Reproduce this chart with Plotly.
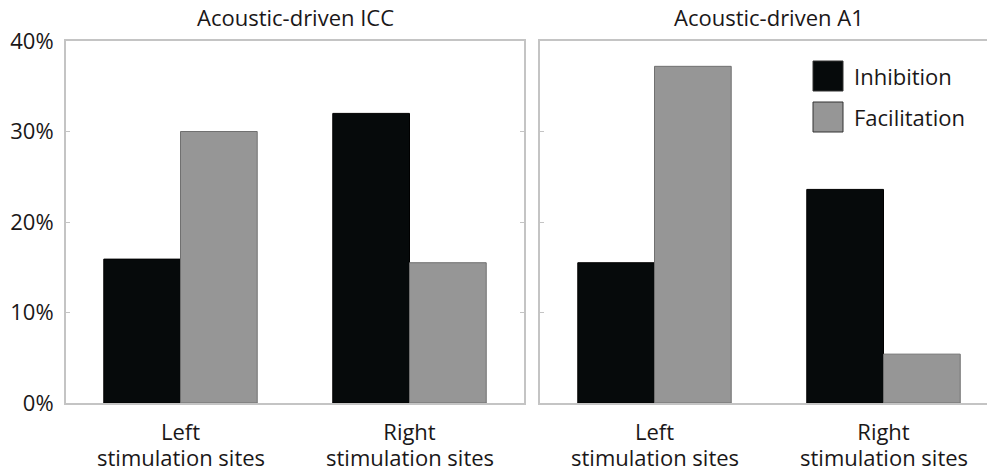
import plotly.graph_objects as go

# Data (percent of recorded sites)
panels = ["Acoustic-driven ICC", "Acoustic-driven A1"]
sites = ["Left", "Right"]
site_sublabel = "stimulation sites"
series_names = ["Inhibition", "Facilitation"]
icc_inhibition = [15.9, 32.0]
icc_facilitation = [30.0, 15.5]
a1_inhibition = [15.5, 23.6]
a1_facilitation = [37.2, 5.4]
y_ticks = [0, 10, 20, 30, 40]
y_tick_labels = [f"{v}%" for v in y_ticks]

W, H = 987, 472
ML, MR, MT, MB = 66, 0, 41, 69
FONT = "Open Sans"
TXT = "#1a1718"
AX = "#c4c4c4"
fills = {"Inhibition": "#060a0b", "Facilitation": "#969696"}
edges = {"Inhibition": "#000000", "Facilitation": "#707070"}

plot_w = W - ML - MR
plot_h = H - MT - MB


def px_x(px):
    return (px - ML) / plot_w


def px_y(py):
    return (H - MB - py) / plot_h


fig = go.Figure()
panel_data = [
    (icc_inhibition, icc_facilitation, "x", "y"),
    (a1_inhibition, a1_facilitation, "x2", "y2"),
]
for inh, fac, xa, ya in panel_data:
    for name, vals in zip(series_names, [inh, fac]):
        fig.add_trace(go.Bar(
            x=sites, y=vals, name=name, xaxis=xa, yaxis=ya,
            marker=dict(color=fills[name], line=dict(color=edges[name], width=1)),
            showlegend=False,
        ))

left_dom = [0, px_x(524)]
right_dom = [px_x(540), 1]
# right panel runs past the page edge: same scale, clipped range
unit_px = (524 - 66) / 2.0
right_hi = -0.5 + (W - 540) / unit_px

axis_common = dict(showgrid=False, zeroline=False, linecolor=AX, linewidth=2)
fig.update_layout(
    width=W, height=H,
    margin=dict(l=ML, r=MR, t=MT, b=MB),
    paper_bgcolor="white", plot_bgcolor="white",
    barmode="group", bargap=0.33, bargroupgap=0,
    font=dict(family=FONT, size=22, color=TXT),
    xaxis=dict(domain=left_dom, range=[-0.5, 1.5], showline=True, mirror=True,
               ticks="", tickfont=dict(size=22, color=TXT), ticklabelstandoff=9,
               **axis_common),
    xaxis2=dict(domain=right_dom, range=[-0.5, right_hi], showline=True, mirror=True,
                ticks="", tickfont=dict(size=22, color=TXT), ticklabelstandoff=9,
                anchor="y2", **axis_common),
    yaxis=dict(domain=[0, 1], range=[0, 40], tickmode="array", tickvals=y_ticks,
               ticktext=y_tick_labels,
               showline=True, mirror="ticks", ticks="inside", ticklen=4,
               tickcolor=AX, tickwidth=1, tickfont=dict(size=22, color=TXT),
               ticklabelstandoff=6, **axis_common),
    yaxis2=dict(domain=[0, 1], range=[0, 40], tickvals=y_ticks, showticklabels=False,
                showline=True, mirror=False, ticks="inside", ticklen=4,
                tickcolor=AX, tickwidth=1, anchor="x2", **axis_common),
)

annotations = []
# panel titles
for title, xa in zip(panels, ["x", "x2"]):
    annotations.append(dict(text=title, xref=xa, x=0.5, yref="paper", y=1,
                            yanchor="bottom", yshift=7, showarrow=False,
                            font=dict(size=22, color=TXT)))
# second line of the category labels
for xa in ["x", "x2"]:
    for s in sites:
        annotations.append(dict(text=site_sublabel, xref=xa, x=s, yref="paper", y=0,
                                yanchor="bottom", yshift=-71, showarrow=False,
                                font=dict(size=22, color=TXT)))

# legend: swatches with labels in the right panel
shapes = []
sw_x0, sw_x1 = 813, 843
sw_rows = [(61, 91), (102, 132)]
for name, (y0, y1) in zip(series_names, sw_rows):
    shapes.append(dict(type="rect", xref="paper", yref="paper",
                       x0=px_x(sw_x0), x1=px_x(sw_x1), y0=px_y(y1), y1=px_y(y0),
                       fillcolor=fills[name], line=dict(color="#333333", width=1)))
    annotations.append(dict(text=name, xref="paper", yref="paper",
                            x=px_x(852), y=px_y((y0 + y1) / 2), xanchor="left",
                            yanchor="middle", showarrow=False,
                            font=dict(size=22, color=TXT)))

fig.update_layout(annotations=annotations, shapes=shapes)
fig.write_html("out.html")
